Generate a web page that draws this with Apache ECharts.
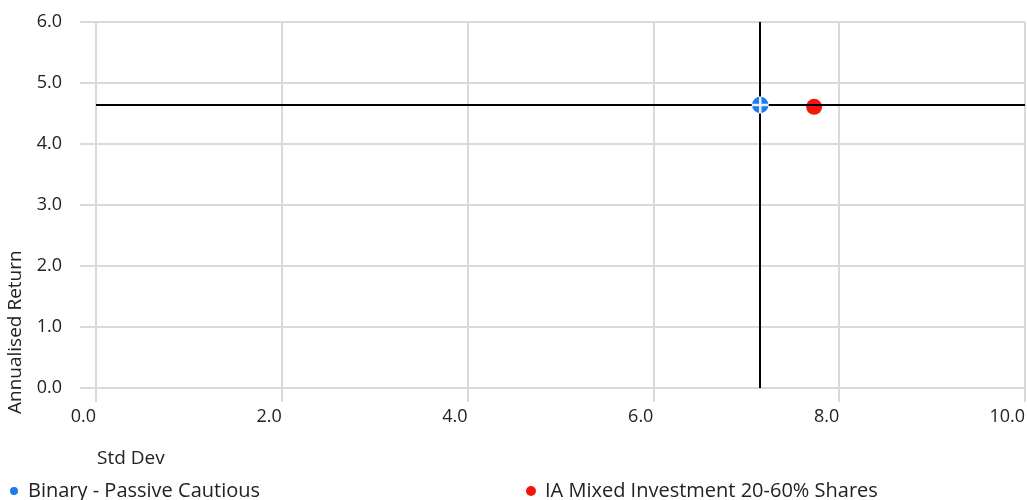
<!DOCTYPE html>
<html>
<head>
<meta charset="utf-8">
<script src="https://cdn.jsdelivr.net/npm/echarts@6/dist/echarts.min.js"></script>
<style>
  html, body { margin: 0; padding: 0; background: #fff; }
  #chart { width: 1027px; height: 500px; }
</style>
</head>
<body>
<div id="chart"></div>
<script>
// Risk / return scatter: standard deviation vs annualised return
const seriesNames = ['Binary - Passive Cautious', 'IA Mixed Investment 20-60% Shares'];
const fundPoint = [7.15, 4.64];
const sectorPoint = [7.73, 4.61];
const xTicks = [0, 2, 4, 6, 8, 10];
const yTicks = [0, 1, 2, 3, 4, 5, 6];

const FONT = 'Open Sans';
const GRID_COLOR = '#dadada';
const TEXT_COLOR = '#222';

const chart = echarts.init(document.getElementById('chart'), null, { renderer: 'canvas' });

chart.setOption({
  animation: false,
  textStyle: { fontFamily: FONT },
  grid: { left: 96, right: 2, top: 22, bottom: 112, containLabel: false, outerBoundsMode: 'none' },
  xAxis: {
    type: 'value',
    min: xTicks[0],
    max: xTicks[xTicks.length - 1],
    interval: xTicks[1] - xTicks[0],
    axisLine: { show: true, lineStyle: { color: GRID_COLOR, width: 2 } },
    axisTick: { show: true, length: 14, lineStyle: { color: GRID_COLOR, width: 2 } },
    splitLine: { show: true, lineStyle: { color: GRID_COLOR, width: 2 } },
    axisLabel: { color: TEXT_COLOR, fontSize: 18, fontFamily: FONT, margin: 20, align: 'right',
      formatter: v => v.toFixed(1) }
  },
  yAxis: {
    type: 'value',
    min: yTicks[0],
    max: yTicks[yTicks.length - 1],
    interval: yTicks[1] - yTicks[0],
    axisLine: { show: true, lineStyle: { color: GRID_COLOR, width: 2 } },
    axisTick: { show: true, length: 16, lineStyle: { color: GRID_COLOR, width: 2 } },
    splitLine: { show: true, lineStyle: { color: GRID_COLOR, width: 2 } },
    axisLabel: { color: TEXT_COLOR, fontSize: 18, fontFamily: FONT, margin: 34,
      formatter: v => v.toFixed(1) }
  },
  legend: [
    {
      data: [seriesNames[0]],
      left: 3, top: 476,
      icon: 'circle', itemWidth: 10, itemHeight: 10, itemGap: 0,
      textStyle: { color: TEXT_COLOR, fontSize: 20, fontFamily: FONT, padding: [0, 0, 0, 4] },
      selectedMode: false
    },
    {
      data: [seriesNames[1]],
      left: 521, top: 476,
      icon: 'circle', itemWidth: 10, itemHeight: 10, itemGap: 0,
      textStyle: { color: TEXT_COLOR, fontSize: 20, fontFamily: FONT, padding: [0, 0, 0, 4] },
      selectedMode: false
    }
  ],
  graphic: [
    {
      type: 'text', left: 97, top: 449,
      style: { text: 'Std Dev', fill: TEXT_COLOR, font: '19px "' + FONT + '"' }
    },
    {
      type: 'text', x: 6, y: 414, rotation: Math.PI / 2,
      style: { text: 'Annualised Return', fill: TEXT_COLOR, font: '19px "' + FONT + '"',
        textAlign: 'left', textVerticalAlign: 'top' }
    }
  ],
  series: [
    {
      name: seriesNames[0],
      type: 'scatter',
      data: [fundPoint],
      symbol: 'circle',
      symbolSize: 18,
      itemStyle: { color: '#1b7bf0', borderColor: '#fff', borderWidth: 1.5, opacity: 1 },
      z: 3,
      markLine: {
        silent: true,
        symbol: 'none',
        animation: false,
        label: { show: false },
        lineStyle: { color: '#000', width: 2, type: 'solid' },
        emphasis: { disabled: true },
        data: [
          { xAxis: fundPoint[0] },
          { yAxis: fundPoint[1] }
        ]
      }
    },
    {
      name: seriesNames[1],
      type: 'scatter',
      data: [sectorPoint],
      symbol: 'circle',
      symbolSize: 16,
      itemStyle: { color: '#f5160a', opacity: 1 },
      z: 3
    },
    {
      // white crosshair marker drawn over the fund point
      name: 'fundCross',
      type: 'scatter',
      data: [fundPoint],
      symbol: 'path://M6.8,0H9.2V6.8H16V9.2H9.2V16H6.8V9.2H0V6.8H6.8Z',
      symbolSize: 17,
      symbolKeepAspect: true,
      itemStyle: { color: '#eeeeee', opacity: 1 },
      silent: true,
      z: 10
    }
  ]
});
</script>
</body>
</html>
